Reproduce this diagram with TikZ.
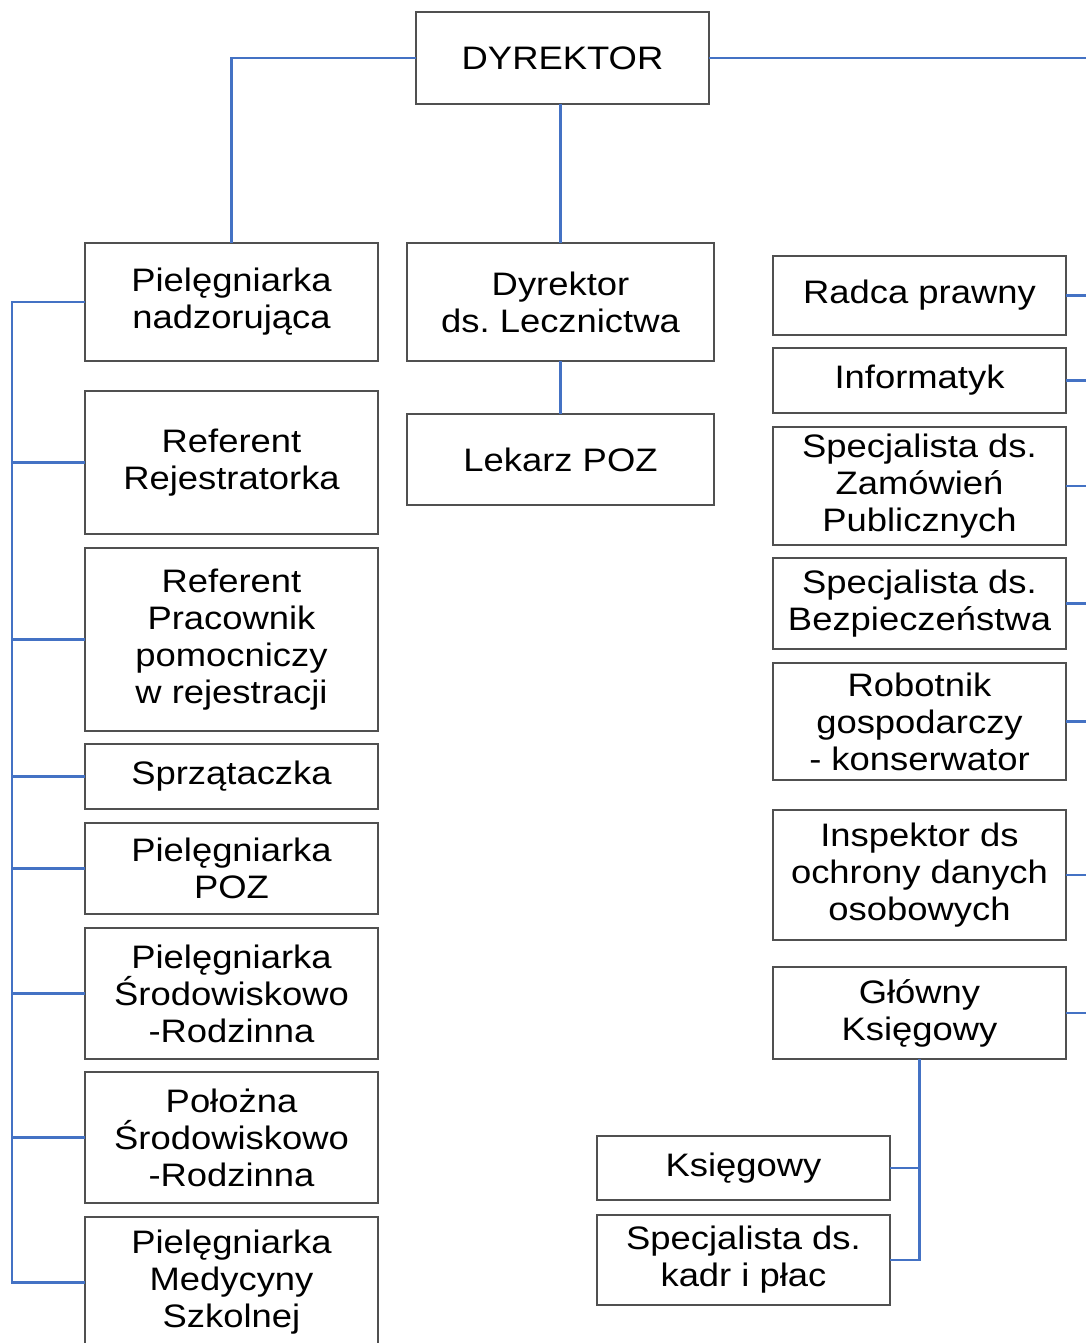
\documentclass[tikz,border=0pt]{standalone}
\usepackage{fontspec}
\setmainfont{Liberation Sans}[FakeStretch=1.12]
\usetikzlibrary{positioning}
\definecolor{linkblue}{RGB}{68,114,196}
\definecolor{boxgray}{RGB}{80,80,80}

\begin{document}
\begin{tikzpicture}[x=1pt,y=-1pt,font=\fontsize{32.5}{37}\selectfont,
  box/.style={draw=boxgray,line width=1.8pt,fill=white,minimum width=293pt,inner sep=2pt,outer sep=0pt,align=center},
  link/.style={draw=linkblue,line width=2.4pt}]
  \useasboundingbox (0,0) rectangle (1086,1343);
  \clip (0,0) rectangle (1086,1343);
  \coordinate (ledge) at (12,0);
  \coordinate (redge) at (1086,0);
  % top
  \node[box,minimum height=92pt,anchor=north west] (dyr) at (416,12) {DYREKTOR};
  % left column
  \node[box,minimum height=118pt,anchor=north west] (nadz) at (85,243) {Pielęgniarka\\nadzorująca};
  \node[box,minimum height=143pt,below=30pt of nadz] (rej) {Referent\\Rejestratorka};
  \node[box,minimum height=183pt,below=14pt of rej] (pom) {Referent\\Pracownik\\pomocniczy\\w rejestracji};
  \node[box,minimum height=65pt,below=13pt of pom] (sprz) {Sprzątaczka};
  \node[box,minimum height=91pt,below=14pt of sprz] (ppoz) {Pielęgniarka\\POZ};
  \node[box,minimum height=131pt,below=14pt of ppoz] (psr) {Pielęgniarka\\Środowiskowo\\-Rodzinna};
  \node[box,minimum height=131pt,below=13pt of psr] (polo) {Położna\\Środowiskowo\\-Rodzinna};
  \node[box,minimum height=131pt,below=14pt of polo] (szk) {Pielęgniarka\\Medycyny\\Szkolnej};
  % middle column
  \node[box,minimum width=307pt,minimum height=118pt,anchor=north west] (lecz) at (407,243) {Dyrektor\\ds.\ Lecznictwa};
  \node[box,minimum width=307pt,minimum height=91pt,below=53pt of lecz] (lek) {Lekarz POZ};
  % right column
  \node[box,minimum height=79pt,anchor=north west] (radca) at (773,256) {Radca prawny};
  \node[box,minimum height=65pt,below=13pt of radca] (inf) {Informatyk};
  \node[box,minimum height=118pt,below=14pt of inf] (zam) {Specjalista ds.\\Zamówień\\Publicznych};
  \node[box,minimum height=91pt,below=13pt of zam] (bhp) {Specjalista ds.\\Bezpieczeństwa};
  \node[box,minimum height=117pt,below=14pt of bhp] (rob) {Robotnik\\gospodarczy\\- konserwator};
  \node[box,minimum height=130pt,below=30pt of rob] (iod) {Inspektor ds\\ochrony danych\\osobowych};
  \node[box,minimum height=92pt,below=27pt of iod] (gk) {Główny\\Księgowy};
  \node[box,minimum height=64pt,anchor=north west] (ksg) at (597,1136) {Księgowy};
  \node[box,minimum height=90pt,below=15pt of ksg] (kadr) {Specjalista ds.\\kadr i płac};
  % connectors
  \draw[link] (dyr.west) -| (nadz.north); \draw[link] (lecz.north) -- (lecz.north |- dyr.south); \draw[link] (dyr.east) -- (dyr.east -| redge);
  \draw[link] (lecz.south) -- (lek.north);
  \draw[link] (nadz.west) -- (nadz.west -| ledge) -- (szk.west -| ledge) -- (szk.west);
  \foreach \n in {rej,pom,sprz,ppoz,psr,polo} \draw[link] (\n.west) -- (\n.west -| ledge);
  \foreach \n in {radca,inf,zam,bhp,rob,iod,gk} \draw[link] (\n.east) -- (\n.east -| redge);
  \draw[link] (gk.south) -- (gk.south |- kadr.east) -- (kadr.east); \draw[link] (ksg.east) -- (ksg.east -| gk.south);
\end{tikzpicture}
\end{document}
